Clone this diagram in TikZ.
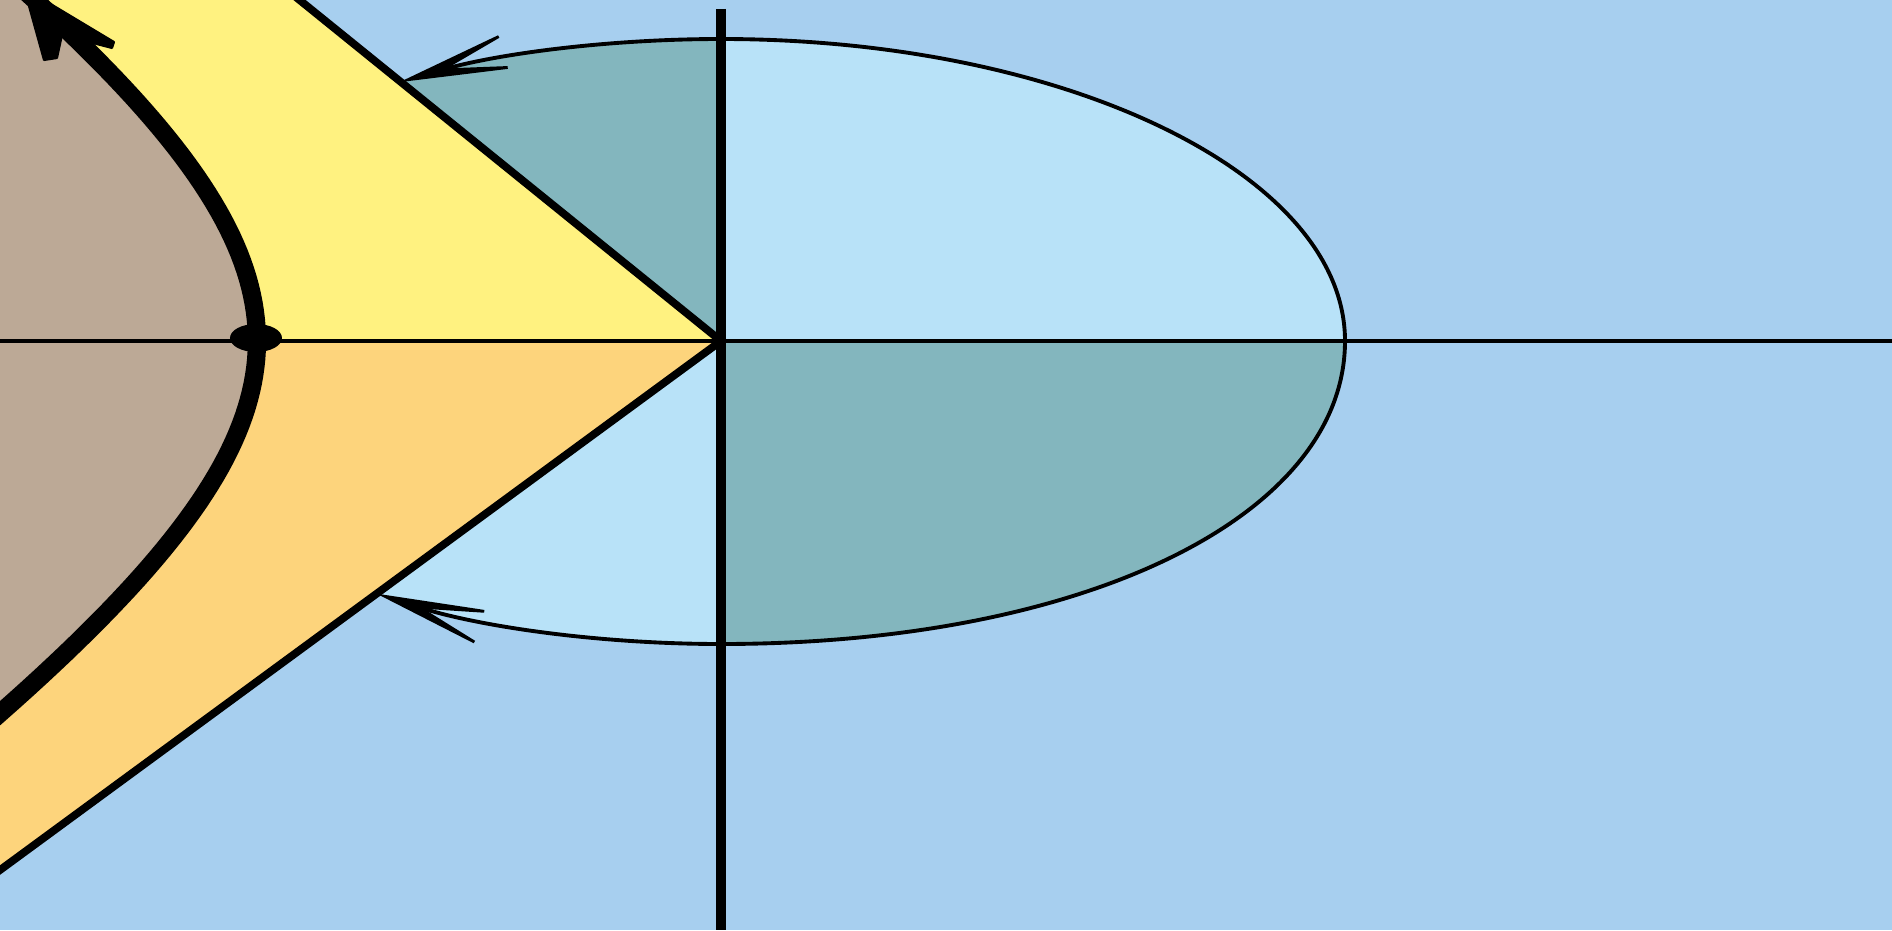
\documentclass[tikz,border=0pt]{standalone}
\usetikzlibrary{arrows.meta}
\definecolor{bgblue}{RGB}{167,207,239}
\definecolor{inblue}{RGB}{184,226,248}
\definecolor{tealfill}{RGB}{131,182,190}
\definecolor{yellowfill}{RGB}{255,242,128}
\definecolor{orangefill}{RGB}{253,212,124}
\definecolor{brownfill}{RGB}{188,169,150}
\begin{document}
\begin{tikzpicture}[x=0.01cm,y=0.01cm,
  ellline/.style={line width=1.1pt, black},
  wedgeline/.style={line width=2.2pt, black, line join=round},
  haxis/.style={line width=1.4pt, black},
  vaxis/.style={line width=2.8pt, black},
  thickcurve/.style={line width=5.2pt, black},
  arcarrow/.style={-{Stealth[length=40pt,width=13pt,inset=26pt,line width=0.8pt]}},
  headfill/.style={fill=black, draw=black, line width=0.6pt, line join=round}]
\useasboundingbox (-721,-589) rectangle (1171,341);
\fill[bgblue] (-721,-589) rectangle (1171,341);
\begin{scope}
\clip (-721,-589) rectangle (1171,341);
\coordinate (O) at (0,0);
\coordinate (T) at (0,302);
\coordinate (B) at (0,-303);
\coordinate (R) at (624,0);
\coordinate (Uend) at (-440,356);
\coordinate (Lend) at (-800,-587);
\coordinate (CT) at (-697,353);
% ellipse quadrants
\fill[inblue] (O) -- (T) arc[start angle=90,end angle=0,x radius=624,y radius=302] -- cycle;
\fill[tealfill] (O) -- (R) .. controls (624,-176) and (362,-303) .. (B) -- cycle;
\fill[tealfill] (O) -- (T) arc[start angle=90,end angle=121,x radius=624,y radius=302] -- cycle;
\fill[inblue] (O) -- (B) arc[start angle=270,end angle=236.5,x radius=624,y radius=303] -- cycle;
% wedge regions
\fill[yellowfill] (O) -- (Uend) -- (-800,356) -- (-800,0) -- cycle;
\fill[orangefill] (O) -- (Lend) -- (-800,0) -- cycle;
\fill[brownfill] plot[domain=-1.06:0.99,samples=80,variable=\t] ({-464*cosh(\t)},{313*sinh(\t)}) -- (-800,400) -- (-800,-420) -- cycle;
% ellipse outline
\draw[ellline] (T) arc[start angle=90,end angle=0,x radius=624,y radius=302] .. controls (624,-176) and (362,-303) .. (B);
\draw[ellline,arcarrow] (T) arc[start angle=90,end angle=121,x radius=624,y radius=302];
\draw[ellline,arcarrow] (B) arc[start angle=270,end angle=236.5,x radius=624,y radius=303];
% wedge lines
\draw[wedgeline] (Uend) -- (O) -- (Lend);
% axes
\draw[haxis] (-721,0) -- (1171,0);
\draw[vaxis] (0,332) -- (0,-589);
% thick curve and its arrowhead
\draw[thickcurve] plot[domain=-1.06:0.97,samples=80,variable=\t] ({-464*cosh(\t)},{313*sinh(\t)});
\filldraw[headfill] (CT) -- (-607,299) -- (-609,293) -- (-659,306) -- (-664,283) -- (-677,281) -- cycle;
\fill[black] (-465,3) ellipse[x radius=26,y radius=14];
\end{scope}
\end{tikzpicture}
\end{document}
